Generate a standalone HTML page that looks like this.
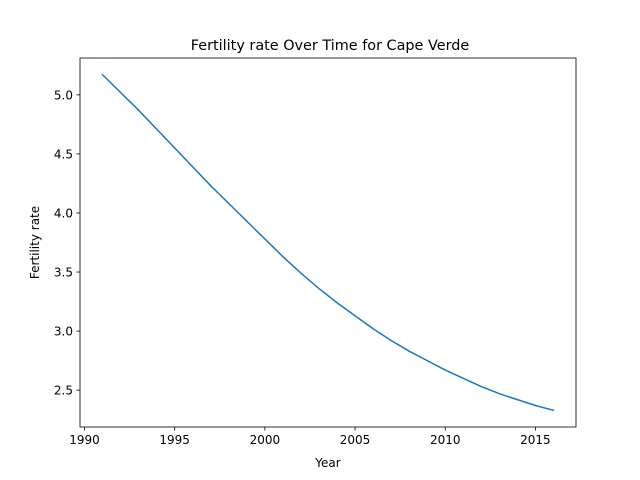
<!DOCTYPE html>
<html><head><meta charset="utf-8"><style>
body{margin:0;background:#fff;}
svg{display:block;font-family:"DejaVu Sans","Liberation Sans",sans-serif;}
</style></head><body>
<svg id="chart" width="640" height="480" viewBox="0 0 640 480">
<rect width="640" height="480" fill="#fff"/>
<text x="330" y="50" text-anchor="middle" font-size="14.4" fill="#000">Fertility rate Over Time for Cape Verde</text>
<g id="xticks"></g>
<g id="yticks"></g>
<path id="line" fill="none" stroke="#1f77b4" stroke-width="1.5" stroke-linejoin="round" stroke-linecap="square"/>
<rect x="80" y="58" width="496" height="369" fill="none" stroke="#000" stroke-width="0.8"/>
<text x="328" y="467" text-anchor="middle" font-size="12">Year</text>
<text transform="translate(39,242.5) rotate(-90)" text-anchor="middle" font-size="12">Fertility rate</text>
</svg>
<script>
const years = [1991,1992,1993,1994,1995,1996,1997,1998,1999,2000,2001,2002,2003,2004,2005,2006,2007,2008,2009,2010,2011,2012,2013,2014,2015,2016];
const fertility = [5.17,5.02,4.87,4.71,4.55,4.39,4.23,4.08,3.93,3.78,3.63,3.49,3.36,3.24,3.13,3.02,2.92,2.83,2.75,2.67,2.60,2.53,2.47,2.42,2.37,2.33];
const xTickLabels = [1990,1995,2000,2005,2010,2015];
const yTickLabels = ["2.5","3.0","3.5","4.0","4.5","5.0"];

const L=80,R=576,T=58,B=427;
const xmin=Math.min(...years),xmax=Math.max(...years);
const ymin=Math.min(...fertility),ymax=Math.max(...fertility);
const xpad=(xmax-xmin)*0.05,ypad=(ymax-ymin)*0.05;
const x0=xmin-xpad,x1=xmax+xpad,y0=ymin-ypad,y1=ymax+ypad;
function sx(v){return L+(v-x0)/(x1-x0)*(R-L);}
function sy(v){return B-(v-y0)/(y1-y0)*(B-T);}
const NS="http://www.w3.org/2000/svg";
const line=document.getElementById('line');
line.setAttribute('d',years.map((y,i)=>(i?'L':'M')+sx(y).toFixed(2)+','+sy(fertility[i]).toFixed(2)).join(''));
const xg=document.getElementById('xticks');
xTickLabels.forEach(t=>{
  const x=sx(t);
  const l=document.createElementNS(NS,'line');
  l.setAttribute('x1',x);l.setAttribute('x2',x);l.setAttribute('y1',B);l.setAttribute('y2',B+3.5);
  l.setAttribute('stroke','#000');l.setAttribute('stroke-width','0.8');
  
  
  xg.appendChild(l);
  const tx=document.createElementNS(NS,'text');
  tx.setAttribute('x',x);tx.setAttribute('y',B+17);tx.setAttribute('text-anchor','middle');tx.setAttribute('font-size','12');
  tx.textContent=t;
  
  
  xg.appendChild(tx);
});
const yg=document.getElementById('yticks');
yTickLabels.forEach(t=>{
  const y=sy(parseFloat(t));
  const l=document.createElementNS(NS,'line');
  l.setAttribute('x1',L-3.5);l.setAttribute('x2',L);l.setAttribute('y1',y);l.setAttribute('y2',y);
  l.setAttribute('stroke','#000');l.setAttribute('stroke-width','0.8');
  
  
  yg.appendChild(l);
  const tx=document.createElementNS(NS,'text');
  tx.setAttribute('x',L-7);tx.setAttribute('y',y+4.5);tx.setAttribute('text-anchor','end');tx.setAttribute('font-size','12');
  tx.textContent=t;
  
  
  yg.appendChild(tx);
});
</script>
</body></html>
